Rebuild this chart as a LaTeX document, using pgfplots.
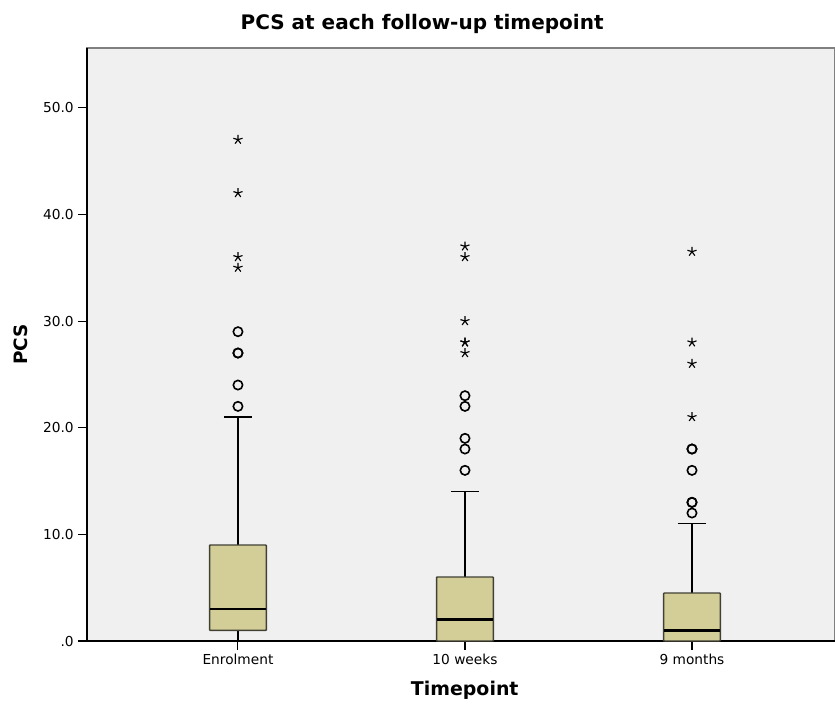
\documentclass[border=0pt]{standalone}
\usepackage{fontspec}
\setmainfont{DejaVu Sans}
\usepackage{pgfplots}
\pgfplotsset{compat=1.18}
\usepgfplotslibrary{statistics}
\definecolor{bgcol}{HTML}{F0F0F0}
\definecolor{boxfill}{HTML}{D3CE97}
\definecolor{boxedge}{HTML}{404035}
\begin{document}
\begin{tikzpicture}
\useasboundingbox (-65.25pt,-47.25pt) rectangle (561pt,480.75pt);
\begin{axis}[
  scale only axis,
  width=561pt, height=444.75pt,
  xmin=0.335, xmax=3.63,
  ymin=0, ymax=55.6,
  axis background/.style={fill=bgcol, draw=gray, line width=1pt},
  axis lines*=left,
  axis line style={black, line width=0.9pt, -},
  xtick={1,2,3},
  xticklabels={Enrolment,10 weeks,9 months},
  ytick={0,10,20,30,40,50},
  yticklabels={.0,10.0,20.0,30.0,40.0,50.0},
  tick align=outside,
  major tick length=6.5pt,
  tick style={black, line width=0.8pt},
  /pgf/number format/assume math mode=true,
  ticklabel style={font=\fontsize{10.3}{12}\selectfont},
  title={\textbf{PCS at each follow-up timepoint}},
  title style={at={(axis description cs:0.448,1)}, anchor=center, yshift=12pt, font=\fontsize{15}{18}\selectfont},
  xlabel={\textbf{Timepoint}},
  xlabel style={at={(axis description cs:0.505,-0.0826)}, anchor=center, font=\fontsize{14.2}{17}\selectfont},
  ylabel={\textbf{PCS}},
  ylabel style={at={(axis description cs:-0.0882,0.5)}, anchor=center, font=\fontsize{13.8}{17}\selectfont},
  boxplot/draw direction=y,
  boxplot/box extend=0.25,
  boxplot/whisker extend=0.125,
  boxplot/every median/.style={line width=2.2pt, draw=black},
  boxplot/every whisker/.style={line width=0.9pt, draw=black},
  boxplot/every box/.style={fill=boxfill, draw=boxedge, line width=1.1pt, rounded corners=0.5pt},
]
\addplot[boxplot prepared={draw position=1, lower whisker=0, lower quartile=1, median=3, upper quartile=9, upper whisker=21}] coordinates {};
\addplot[boxplot prepared={draw position=2, lower whisker=0, lower quartile=0, median=2, upper quartile=6, upper whisker=14}] coordinates {};
\addplot[boxplot prepared={draw position=3, lower whisker=0, lower quartile=0, median=1, upper quartile=4.5, upper whisker=11}] coordinates {};
% mild outliers (circles)
\addplot[only marks, mark=o, mark size=3.5pt, mark options={line width=1.2pt, draw=black}] coordinates {
 (1,22) (1,24) (1,27) (1,27) (1,29)
 (2,16) (2,18) (2,19) (2,22) (2,23)
 (3,12) (3,13) (3,13) (3,16) (3,18) (3,18)
};
% extreme outliers (stars)
\addplot[only marks, mark=star, mark size=3.6pt, mark options={line width=0.85pt, draw=black}] coordinates {
 (1,35) (1,36) (1,42) (1,47)
 (2,27) (2,28) (2,28) (2,30) (2,36) (2,37)
 (3,21) (3,26) (3,28) (3,36.5)
};
\end{axis}
\end{tikzpicture}
\end{document}
